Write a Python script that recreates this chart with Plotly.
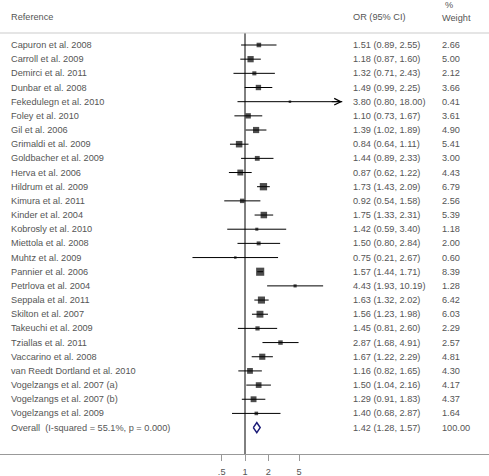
import numpy as np
import plotly.graph_objects as go

studies = ["Capuron et al. 2008", "Carroll et al. 2009", "Demirci et al. 2011", "Dunbar et al. 2008",
           "Fekedulegn et al. 2010", "Foley et al. 2010", "Gil et al. 2006", "Grimaldi et al. 2009",
           "Goldbacher et al. 2009", "Herva et al. 2006", "Hildrum et al. 2009", "Kimura et al. 2011",
           "Kinder et al. 2004", "Kobrosly et al. 2010", "Miettola et al. 2008", "Muhtz et al. 2009",
           "Pannier et al. 2006", "Petrlova et al. 2004", "Seppala et al. 2011", "Skilton et al. 2007",
           "Takeuchi et al. 2009", "Tziallas et al. 2011", "Vaccarino et al. 2008",
           "van Reedt Dortland et al. 2010", "Vogelzangs et al. 2007 (a)", "Vogelzangs et al. 2007 (b)",
           "Vogelzangs et al. 2009"]
odds = [1.51, 1.18, 1.32, 1.49, 3.80, 1.10, 1.39, 0.84, 1.44, 0.87, 1.73, 0.92, 1.75, 1.42, 1.50, 0.75,
        1.57, 4.43, 1.63, 1.56, 1.45, 2.87, 1.67, 1.16, 1.50, 1.29, 1.40]
lower = [0.89, 0.87, 0.71, 0.99, 0.80, 0.73, 1.02, 0.64, 0.89, 0.62, 1.43, 0.54, 1.33, 0.59, 0.80, 0.21,
         1.44, 1.93, 1.32, 1.23, 0.81, 1.68, 1.22, 0.82, 1.04, 0.91, 0.68]
upper = [2.55, 1.60, 2.43, 2.25, 18.00, 1.67, 1.89, 1.11, 2.33, 1.22, 2.09, 1.58, 2.31, 3.40, 2.84, 2.67,
         1.71, 10.19, 2.02, 1.98, 2.60, 4.91, 2.29, 1.65, 2.16, 1.83, 2.87]
weights = [2.66, 5.00, 2.12, 3.66, 0.41, 3.61, 4.90, 5.41, 3.00, 4.43, 6.79, 2.56, 5.39, 1.18, 2.00, 0.60,
           8.39, 1.28, 6.42, 6.03, 2.29, 2.57, 4.81, 4.30, 4.17, 4.37, 1.64]
overall_label = "Overall  (I-squared = 55.1%, p = 0.000)"
overall = [1.42, 1.28, 1.57, 100.00]
arrow_studies = ["Fekedulegn et al. 2010"]
tick_vals = [0.5, 1, 2, 5]
tick_text = [".5", "1", "2", "5"]

W, H = 489, 476
TOP, BOT = 33, 22
PH = H - TOP - BOT
ROW0, DROW = 45.0, 14.17
n = len(studies)
rows = list(range(n))
ov_row = n

def ypix_to_row(p):
    return (p - ROW0) / DROW

def ypix_to_paper(p):
    return (H - BOT - p) / PH

FONT = "Liberation Sans, Arial, sans-serif"
TXT = "#555555"
FS = 9.2

fig = go.Figure()

# vertical reference line at 1
fig.add_trace(go.Scatter(x=[1, 1], y=[ypix_to_row(TOP), ypix_to_row(H - BOT + 2)], mode="lines",
                         line=dict(color="black", width=1), hoverinfo="skip", cliponaxis=False))

# CI lines
cx, cy = [], []
for i in rows:
    cx += [lower[i], upper[i], None]
    cy += [i, i, None]
fig.add_trace(go.Scatter(x=cx, y=cy, mode="lines", line=dict(color="black", width=1), hoverinfo="skip"))

# boxes
sizes = [max(2.5, 2.8 * np.sqrt(w)) for w in weights]
fig.add_trace(go.Scatter(x=odds, y=rows, mode="markers",
                         marker=dict(symbol="square", size=sizes, color="black", line=dict(width=0)),
                         hoverinfo="skip"))

# overall diamond
h = 0.36
fig.add_trace(go.Scatter(x=[overall[1], overall[0], overall[2], overall[0], overall[1]],
                         y=[ov_row, ov_row - h, ov_row, ov_row + h, ov_row], mode="lines",
                         line=dict(color="#1c1c78", width=1.5), hoverinfo="skip"))

ann = []
tf = dict(size=FS, color=TXT, family=FONT)
for i in rows:
    ann.append(dict(x=8.5 / W, y=i, xref="paper", yref="y", text=studies[i], showarrow=False,
                    xanchor="left", yanchor="middle", font=tf))
    ann.append(dict(x=351 / W, y=i, xref="paper", yref="y",
                    text=f"{odds[i]:.2f} ({lower[i]:.2f}, {upper[i]:.2f})", showarrow=False,
                    xanchor="left", yanchor="middle", font=tf))
    ann.append(dict(x=440 / W, y=i, xref="paper", yref="y", text=f"{weights[i]:.2f}", showarrow=False,
                    xanchor="left", yanchor="middle", font=tf))
    if studies[i] in arrow_studies:
        ann.append(dict(x=np.log10(upper[i]), y=i, xref="x", yref="y", showarrow=True, ax=-12, ay=0,
                        arrowhead=5, arrowsize=1.3, arrowwidth=1, arrowcolor="black", standoff=0, text=""))

ann.append(dict(x=8.5 / W, y=ov_row, xref="paper", yref="y", text=overall_label, showarrow=False,
                xanchor="left", yanchor="middle", font=tf))
ann.append(dict(x=351 / W, y=ov_row, xref="paper", yref="y",
                text=f"{overall[0]:.2f} ({overall[1]:.2f}, {overall[2]:.2f})", showarrow=False,
                xanchor="left", yanchor="middle", font=tf))
ann.append(dict(x=440 / W, y=ov_row, xref="paper", yref="y", text=f"{overall[3]:.2f}", showarrow=False,
                xanchor="left", yanchor="middle", font=tf))

# headers
for txt, xp, yp in [("Reference", 8.5, 17.5), ("OR (95% CI)", 351, 17.5), ("%", 442.5, 4.5), ("Weight", 440, 18)]:
    ann.append(dict(x=xp / W, y=ypix_to_paper(yp), xref="paper", yref="paper", text=txt, showarrow=False,
                    xanchor="left", yanchor="middle", font=tf))

shapes = [dict(type="line", xref="paper", yref="paper", x0=0, x1=1, y0=1, y1=1,
               line=dict(color="#cccccc", width=1.2))]

scale = 77.5
fig.update_layout(
    width=W, height=H, margin=dict(l=0, r=0, t=TOP, b=BOT),
    paper_bgcolor="white", plot_bgcolor="white", showlegend=False,
    annotations=ann, shapes=shapes,
    xaxis=dict(type="log", range=[-245 / scale, (W - 245) / scale], showgrid=False, zeroline=False,
               showline=True, linecolor="#999999", linewidth=1, ticks="outside", ticklen=6,
               tickcolor="#999999", tickvals=tick_vals, ticktext=tick_text, ticklabelstandoff=3,
               tickfont=tf, fixedrange=True),
    yaxis=dict(range=[ypix_to_row(H - BOT), ypix_to_row(TOP)], showgrid=False, zeroline=False,
               showticklabels=False, showline=False, ticks="", fixedrange=True),
)
fig.write_html("out.html", config={"displayModeBar": False},
               post_script="document.body.style.margin='0px';document.body.style.overflow='hidden';")
